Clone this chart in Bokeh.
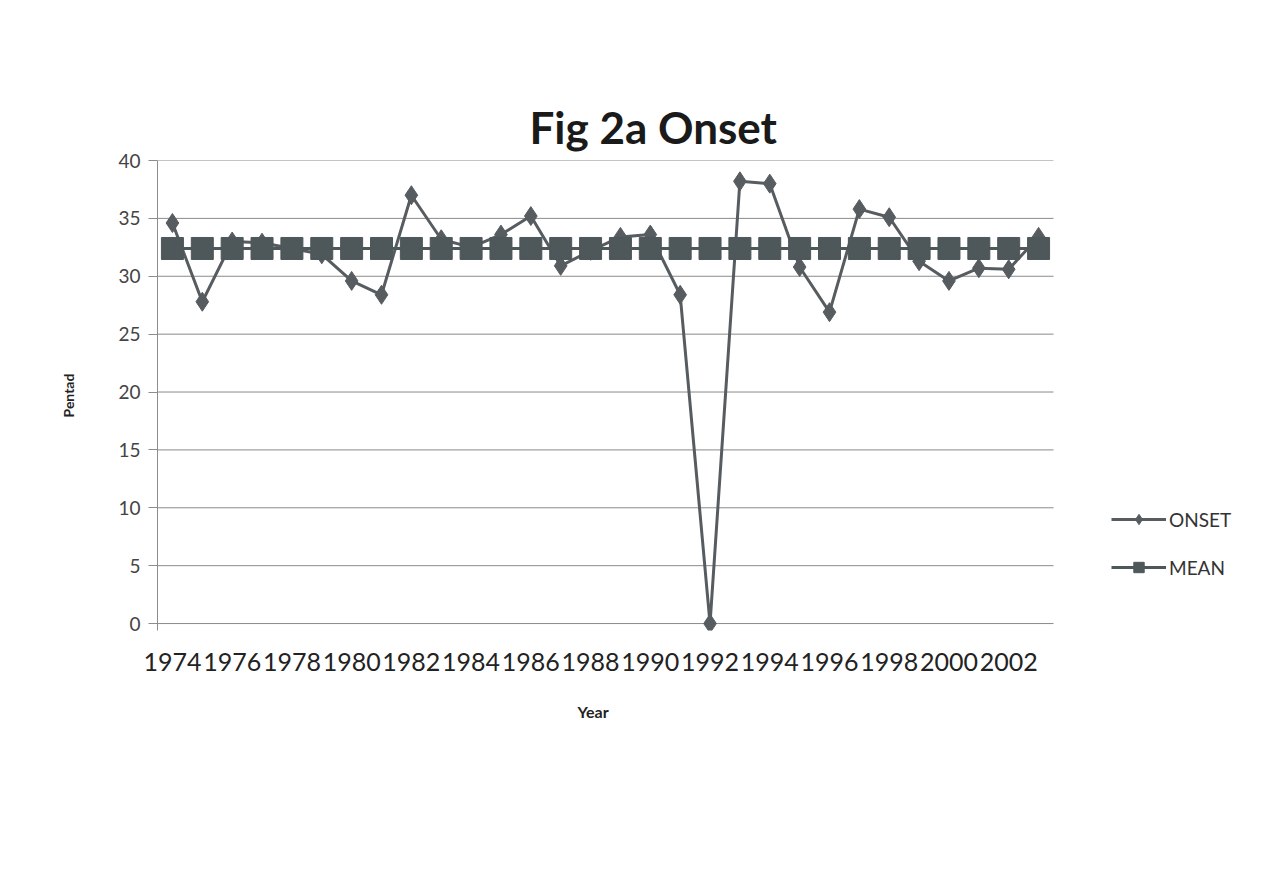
from bokeh.plotting import figure
from bokeh.models import Range1d, FixedTicker, Legend, LegendItem, ColumnDataSource, Title
from bokeh.embed import file_html
from bokeh.resources import INLINE

years = [1974, 1975, 1976, 1977, 1978, 1979, 1980, 1981, 1982, 1983,
         1984, 1985, 1986, 1987, 1988, 1989, 1990, 1991, 1992, 1993,
         1994, 1995, 1996, 1997, 1998, 1999, 2000, 2001, 2002, 2003]
onset = [34.6, 27.8, 33.0, 32.9, 32.4, 31.9, 29.6, 28.4, 37.0, 33.2,
         32.5, 33.6, 35.2, 30.9, 32.2, 33.4, 33.6, 28.4, 0.0, 38.2,
         38.0, 30.8, 26.9, 35.8, 35.1, 31.3, 29.6, 30.7, 30.6, 33.4]
mean = [32.4, 32.4, 32.4, 32.4, 32.4, 32.4, 32.4, 32.4, 32.4, 32.4,
        32.4, 32.4, 32.4, 32.4, 32.4, 32.4, 32.4, 32.4, 32.4, 32.4,
        32.4, 32.4, 32.4, 32.4, 32.4, 32.4, 32.4, 32.4, 32.4, 32.4]
x_ticks = [1974, 1976, 1978, 1980, 1982, 1984, 1986, 1988, 1990, 1992,
           1994, 1996, 1998, 2000, 2002]
y_ticks = [0, 5, 10, 15, 20, 25, 30, 35, 40]

src = ColumnDataSource(data=dict(year=years, onset=onset, mean=mean))

FONT = "Lato"
ONSET_C = "#565c60"
MEAN_C = "#4e5759"
GRID_C = "#8a8a8a"

W, H = 1259, 800
BL, BR, BT, BB = 157, 16, 160, 170
frame_w = W - BL - BR              # frame spans plot area + legend area
plot_w = 896                       # width of the plotting area proper
x0 = years[0] - 0.5
x1 = years[-1] + 0.5
x_end = x0 + (x1 - x0) * frame_w / plot_w

p = figure(width=W, height=H, output_backend="svg", toolbar_location=None,
           x_range=Range1d(x0, x_end), y_range=Range1d(-0.6, 40),
           min_border_left=BL, min_border_right=BR, min_border_top=BT,
           min_border_bottom=BB)
p.outline_line_color = None
p.background_fill_color = "white"
p.border_fill_color = "white"

p.title.text = "Fig 2a Onset"
p.title.text_font = FONT
p.title.text_font_size = "44px"
p.title.text_font_style = "bold"
p.title.text_color = "#1a1a1a"
p.title.align = "left"
p.title.offset = 372
p.title.standoff = 16

# axes
p.xaxis.ticker = FixedTicker(ticks=x_ticks)
p.xaxis.major_label_text_font = FONT
p.xaxis.major_label_text_font_size = "25px"
p.xaxis.major_label_text_color = "#222222"
p.xaxis.axis_line_color = None
p.xaxis.major_tick_line_color = None
p.xaxis.minor_tick_line_color = None
p.xaxis.major_label_standoff = 16

year_title = Title(text="Year", align="left", offset=420, text_font=FONT,
                   text_font_size="16px", text_font_style="bold",
                   text_color="#222222", standoff=52)
p.add_layout(year_title, "below")

p.yaxis.ticker = FixedTicker(ticks=y_ticks)
p.yaxis.major_label_text_font = FONT
p.yaxis.major_label_text_font_size = "19px"
p.yaxis.major_label_text_color = "#444444"
p.yaxis.axis_line_color = "#8c8c8c"
p.yaxis.major_tick_line_color = "#8c8c8c"
p.yaxis.major_tick_out = 9
p.yaxis.major_tick_in = 0
p.yaxis.minor_tick_line_color = None
p.yaxis.major_label_standoff = 8
p.yaxis.axis_label = "Pentad"
p.yaxis.axis_label_text_font = FONT
p.yaxis.axis_label_text_font_size = "14px"
p.yaxis.axis_label_text_font_style = "bold"
p.yaxis.axis_label_text_color = "#222222"
p.yaxis.axis_label_standoff = 38

# gridlines limited to the plotting area
p.xgrid.grid_line_color = None
p.ygrid.grid_line_color = None
p.segment(x0=[x0] * len(y_ticks), x1=[x1] * len(y_ticks), y0=y_ticks, y1=y_ticks,
          line_color=GRID_C, line_width=1)

# series
l_on = p.line("year", "onset", source=src, line_color=ONSET_C, line_width=3)
s_on = p.scatter("year", "onset", source=src, marker="diamond", size=19,
                 fill_color=ONSET_C, line_color=ONSET_C)
l_mn = p.line("year", "mean", source=src, line_color=MEAN_C, line_width=3)
s_mn = p.scatter("year", "mean", source=src, marker="square", size=22,
                 fill_color=MEAN_C, line_color=MEAN_C)

legend = Legend(items=[LegendItem(label="ONSET", renderers=[l_on, s_on]),
                       LegendItem(label="MEAN", renderers=[l_mn, s_mn])],
                location=(plot_w + 58, 50))
legend.label_text_font = FONT
legend.label_text_font_size = "19px"
legend.label_text_color = "#333333"
legend.glyph_width = 55
legend.glyph_height = 26
legend.spacing = 22
legend.label_standoff = 3
legend.border_line_color = None
legend.background_fill_alpha = 0
p.add_layout(legend, "center")

open("out.html", "w").write(file_html(p, INLINE))
